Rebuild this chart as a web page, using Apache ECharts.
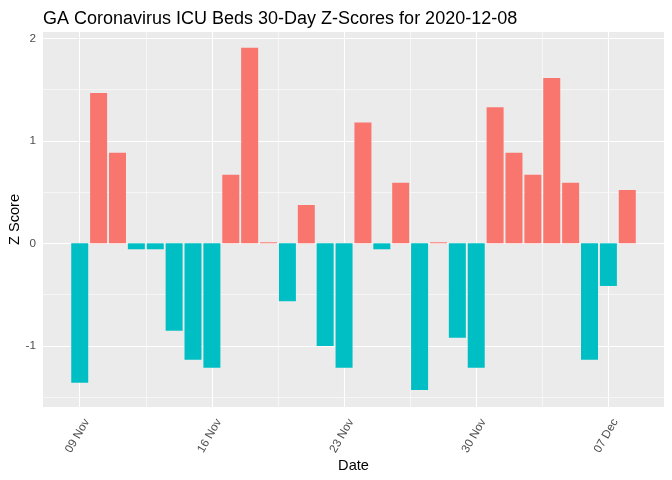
<!DOCTYPE html>
<html>
<head>
<meta charset="utf-8">
<script src="https://cdn.jsdelivr.net/npm/echarts@6/dist/echarts.min.js"></script>
<style>html,body{margin:0;padding:0;background:#fff;}#c{width:672px;height:480px;}</style>
</head>
<body>
<div id="c"></div>
<script>
// Dates 09 Nov 2020 .. 08 Dec 2020 (day index 0..29)
const dates = ['09 Nov','10 Nov','11 Nov','12 Nov','13 Nov','14 Nov','15 Nov','16 Nov','17 Nov','18 Nov',
  '19 Nov','20 Nov','21 Nov','22 Nov','23 Nov','24 Nov','25 Nov','26 Nov','27 Nov','28 Nov',
  '29 Nov','30 Nov','01 Dec','02 Dec','03 Dec','04 Dec','05 Dec','06 Dec','07 Dec','08 Dec'];
const zScores = [-1.36, 1.466, 0.885, -0.058, -0.058, -0.854, -1.136, -1.214, 0.669, 1.908,
  0.01, -0.565, 0.374, -1.003, -1.214, 1.18, -0.058, 0.59, -1.43, 0.01,
  -0.922, -1.214, 1.328, 0.885, 0.669, 1.613, 0.59, -1.136, -0.416, 0.521];
const xTickIdx = [0, 7, 14, 21, 28];
const xTickLabels = ['09 Nov', '16 Nov', '23 Nov', '30 Nov', '07 Dec'];
const xMinorIdx = [3.5, 10.5, 17.5, 24.5];
const yTicks = [-1, 0, 1, 2];
const yMinor = [-1.5, -0.5, 0.5, 1.5];

const posColor = '#F8766D', negColor = '#00BFC4';

const chart = echarts.init(document.getElementById('c'), null, {renderer: 'canvas'});
const barData = zScores.map((v, i) => ({value: [i, v], itemStyle: {color: v >= 0 ? posColor : negColor}}));

function gl(arr, axis, w) {
  return arr.map(v => ({[axis]: v, lineStyle: {color: '#ffffff', width: w, type: 'solid'}}));
}

chart.setOption({
  animation: false,
  title: {
    text: 'GA Coronavirus ICU Beds 30-Day Z-Scores for 2020-12-08',
    left: 38, top: 5,
    textStyle: {fontFamily: 'Liberation Sans, Arial, sans-serif', fontSize: 18, fontWeight: 'normal', color: '#000'}
  },
  grid: {left: 43, right: 8, top: 32, bottom: 73, show: true, backgroundColor: '#EBEBEB', borderWidth: 0,
         containLabel: false, outerBoundsMode: 'none'},
  xAxis: {
    type: 'value', min: -1.945, max: 30.945,
    name: 'Date', nameLocation: 'middle', nameGap: 51, nameMoveOverlap: false,
    nameTextStyle: {fontFamily: 'Liberation Sans, Arial, sans-serif', fontSize: 14.6, color: '#000'},
    axisLine: {show: false},
    axisTick: {show: true, length: 3.6, lineStyle: {color: '#333333', width: 1.07}, customValues: xTickIdx},
    axisLabel: {
      customValues: xTickIdx, rotate: 60, margin: 7, verticalAlign: 'top', padding: [3, 1.5, 0, 0],
      fontFamily: 'Liberation Sans, Arial, sans-serif', fontSize: 11.7, color: '#4D4D4D',
      formatter: v => { const k = xTickIdx.indexOf(Math.round(v)); return k >= 0 ? xTickLabels[k] : ''; }
    },
    splitLine: {show: false}
  },
  yAxis: {
    type: 'value', min: -1.597, max: 2.062,
    name: 'Z Score', nameLocation: 'middle', nameGap: 21, nameRotate: 90, nameMoveOverlap: false,
    nameTextStyle: {fontFamily: 'Liberation Sans, Arial, sans-serif', fontSize: 14.6, color: '#000'},
    axisLine: {show: false},
    axisTick: {show: true, length: 3.6, lineStyle: {color: '#333333', width: 1.07}, customValues: yTicks},
    axisLabel: {
      customValues: yTicks, margin: 7,
      fontFamily: 'Liberation Sans, Arial, sans-serif', fontSize: 11.7, color: '#4D4D4D'
    },
    splitLine: {show: false}
  },
  series: [
    {
      type: 'line', data: [], z: 1, silent: true,
      markLine: {
        z: 1, silent: true, symbol: 'none', label: {show: false}, animation: false,
        data: [].concat(gl(yMinor, 'yAxis', 0.55), gl(xMinorIdx, 'xAxis', 0.55),
                        gl(yTicks, 'yAxis', 1.1), gl(xTickIdx, 'xAxis', 1.1))
      }
    },
    {
      type: 'bar', data: barData, barWidth: '90%', z: 10
    }
  ]
});
</script>
</body>
</html>
